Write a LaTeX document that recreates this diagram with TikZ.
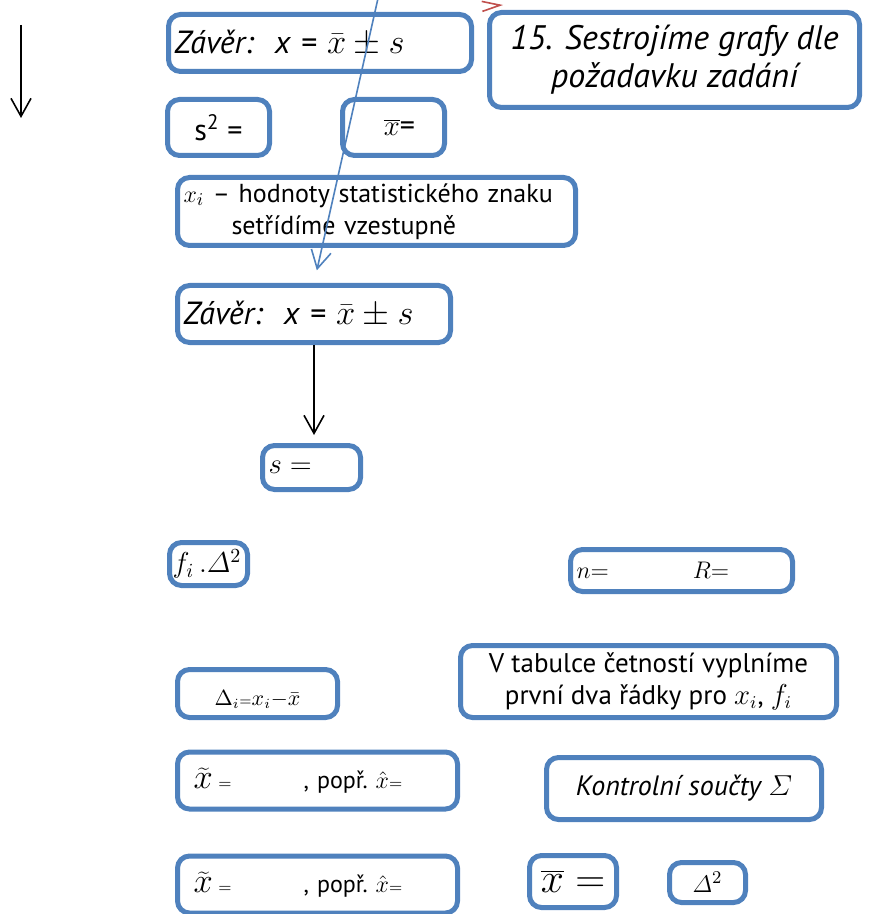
\documentclass[tikz,border=0pt]{standalone}
\usepackage{fontspec}
\setmainfont{PT Sans}
\usetikzlibrary{arrows.meta}
\definecolor{boxblue}{RGB}{79,129,189}
\definecolor{arrred}{RGB}{192,80,77}
\begin{document}
\begin{tikzpicture}[x=0.5pt,y=-0.5pt,
box/.style={draw=boxblue,line width=2.5pt,rounded corners=6pt,fill=white,inner xsep=3pt,inner ysep=0pt},
barb/.style={-{Straight Barb[length=9pt,width=10pt]},line width=0.8pt}]
\useasboundingbox (0,0) rectangle (874,914);
\node[box,minimum width=151.5pt,minimum height=28.5pt,text width=145.5pt,align=left,font=\fontsize{16}{19}\selectfont\itshape](zav1) at (320,43){Závěr:\ \ x = $\bar{x}\pm s$};
\node[box,minimum width=185pt,minimum height=47.5pt,align=center,font=\fontsize{17}{19}\selectfont\itshape](task) at (674.5,60){15. Sestrojíme grafy dle\\požadavku zadání};
\node[box,minimum width=51pt,minimum height=28pt,font=\fontsize{15}{18}\selectfont](s2) at (218.5,127.5){s\textsuperscript{2} =};
\node[box,minimum width=51pt,minimum height=28pt,font=\fontsize{15}{18}\selectfont](xbar) at (393.5,127.5){\hspace*{6pt}$\overline{x}$=};
\node[box,minimum width=199pt,minimum height=34pt,text width=193pt,align=left,font=\fontsize{13}{16}\selectfont](xi) at (376.5,211.5){$x_i$ – hodnoty statistického znaku\\\hspace*{24pt}setřídíme vzestupně};
\node[box,minimum width=136.5pt,minimum height=28.5pt,text width=130.5pt,align=left,font=\fontsize{16}{19}\selectfont\itshape](zav2) at (314,314){Závěr:\ \ x = $\bar{x}\pm s$};
\node[box,minimum width=49pt,minimum height=22pt,text width=43pt,align=left,font=\fontsize{15}{18}\selectfont](sv) at (311.5,467.5){$s =$};
\node[box,minimum width=39pt,minimum height=21.5pt,inner xsep=1.5pt,text width=36pt,align=left,font=\fontsize{14}{16}\selectfont](fd) at (208.5,564){$f_i\,.\mathnormal{\Delta}^2$};
\node[box,minimum width=111pt,minimum height=21pt,text width=105pt,align=left,font=\fontsize{12}{14}\selectfont](nr) at (681.5,570.5){$n{=}$\hspace{42pt}$R{=}$};
\node[box,minimum width=80pt,minimum height=24pt,font=\fontsize{10.5}{13}\selectfont](di) at (257.5,693.5){\raisebox{-6pt}[0pt][0pt]{$\Delta_i{\scriptstyle=}x_i{-}\bar{x}$}};
\node[box,minimum width=188pt,minimum height=36pt,align=center,font=\fontsize{13.5}{16}\selectfont](tab) at (648.5,681.5){V tabulce četností vyplníme\\první dva řádky pro $x_i$, $f_i$};
\foreach \y/\nm in {780.5/med1,884.5/med2}{
\node[box,minimum width=140pt,minimum height=28.5pt,inner xsep=8pt,text width=124pt,align=left,font=\fontsize{12}{14}\selectfont](\nm) at (317.5,\y){\fontsize{17}{18}\selectfont$\widetilde{x}$\,\fontsize{12}{14}\selectfont${\scriptstyle=}$\hspace{36pt}, popř.\,\,$\hat{x}{\scriptstyle=}$};
}
\node[box,minimum width=137.5pt,minimum height=31pt,font=\fontsize{14}{16}\selectfont\itshape](kon) at (684,788.5){Kontrolní součty $\mathnormal{\Sigma}$};
\node[box,minimum width=43.5pt,minimum height=26pt,font=\fontsize{20}{22}\selectfont](xb2) at (573,881.5){$\overline{x} =$};
\node[box,minimum width=38pt,minimum height=20pt,font=\fontsize{13}{14}\selectfont](d2) at (707.5,882.5){$\mathnormal{\Delta}^2$};
\coordinate(ltop) at (21,25);
\coordinate(lbot) at (21,118);
\draw[barb](ltop)--(lbot);
\draw[barb,shorten >=4pt](zav2.south)--(zav2.south|-sv.north);
\coordinate(bluetail) at (381,-15);
\draw[barb,boxblue,shorten >=6.5pt](bluetail)--(zav2.north);
\coordinate(redtail) at (500,5.2);
\coordinate(redtip) at (503,5);
\draw[arrred,line width=0.8pt,-{Straight Barb[length=9pt,width=5pt]}](redtail)--(redtip);
\end{tikzpicture}
\end{document}
